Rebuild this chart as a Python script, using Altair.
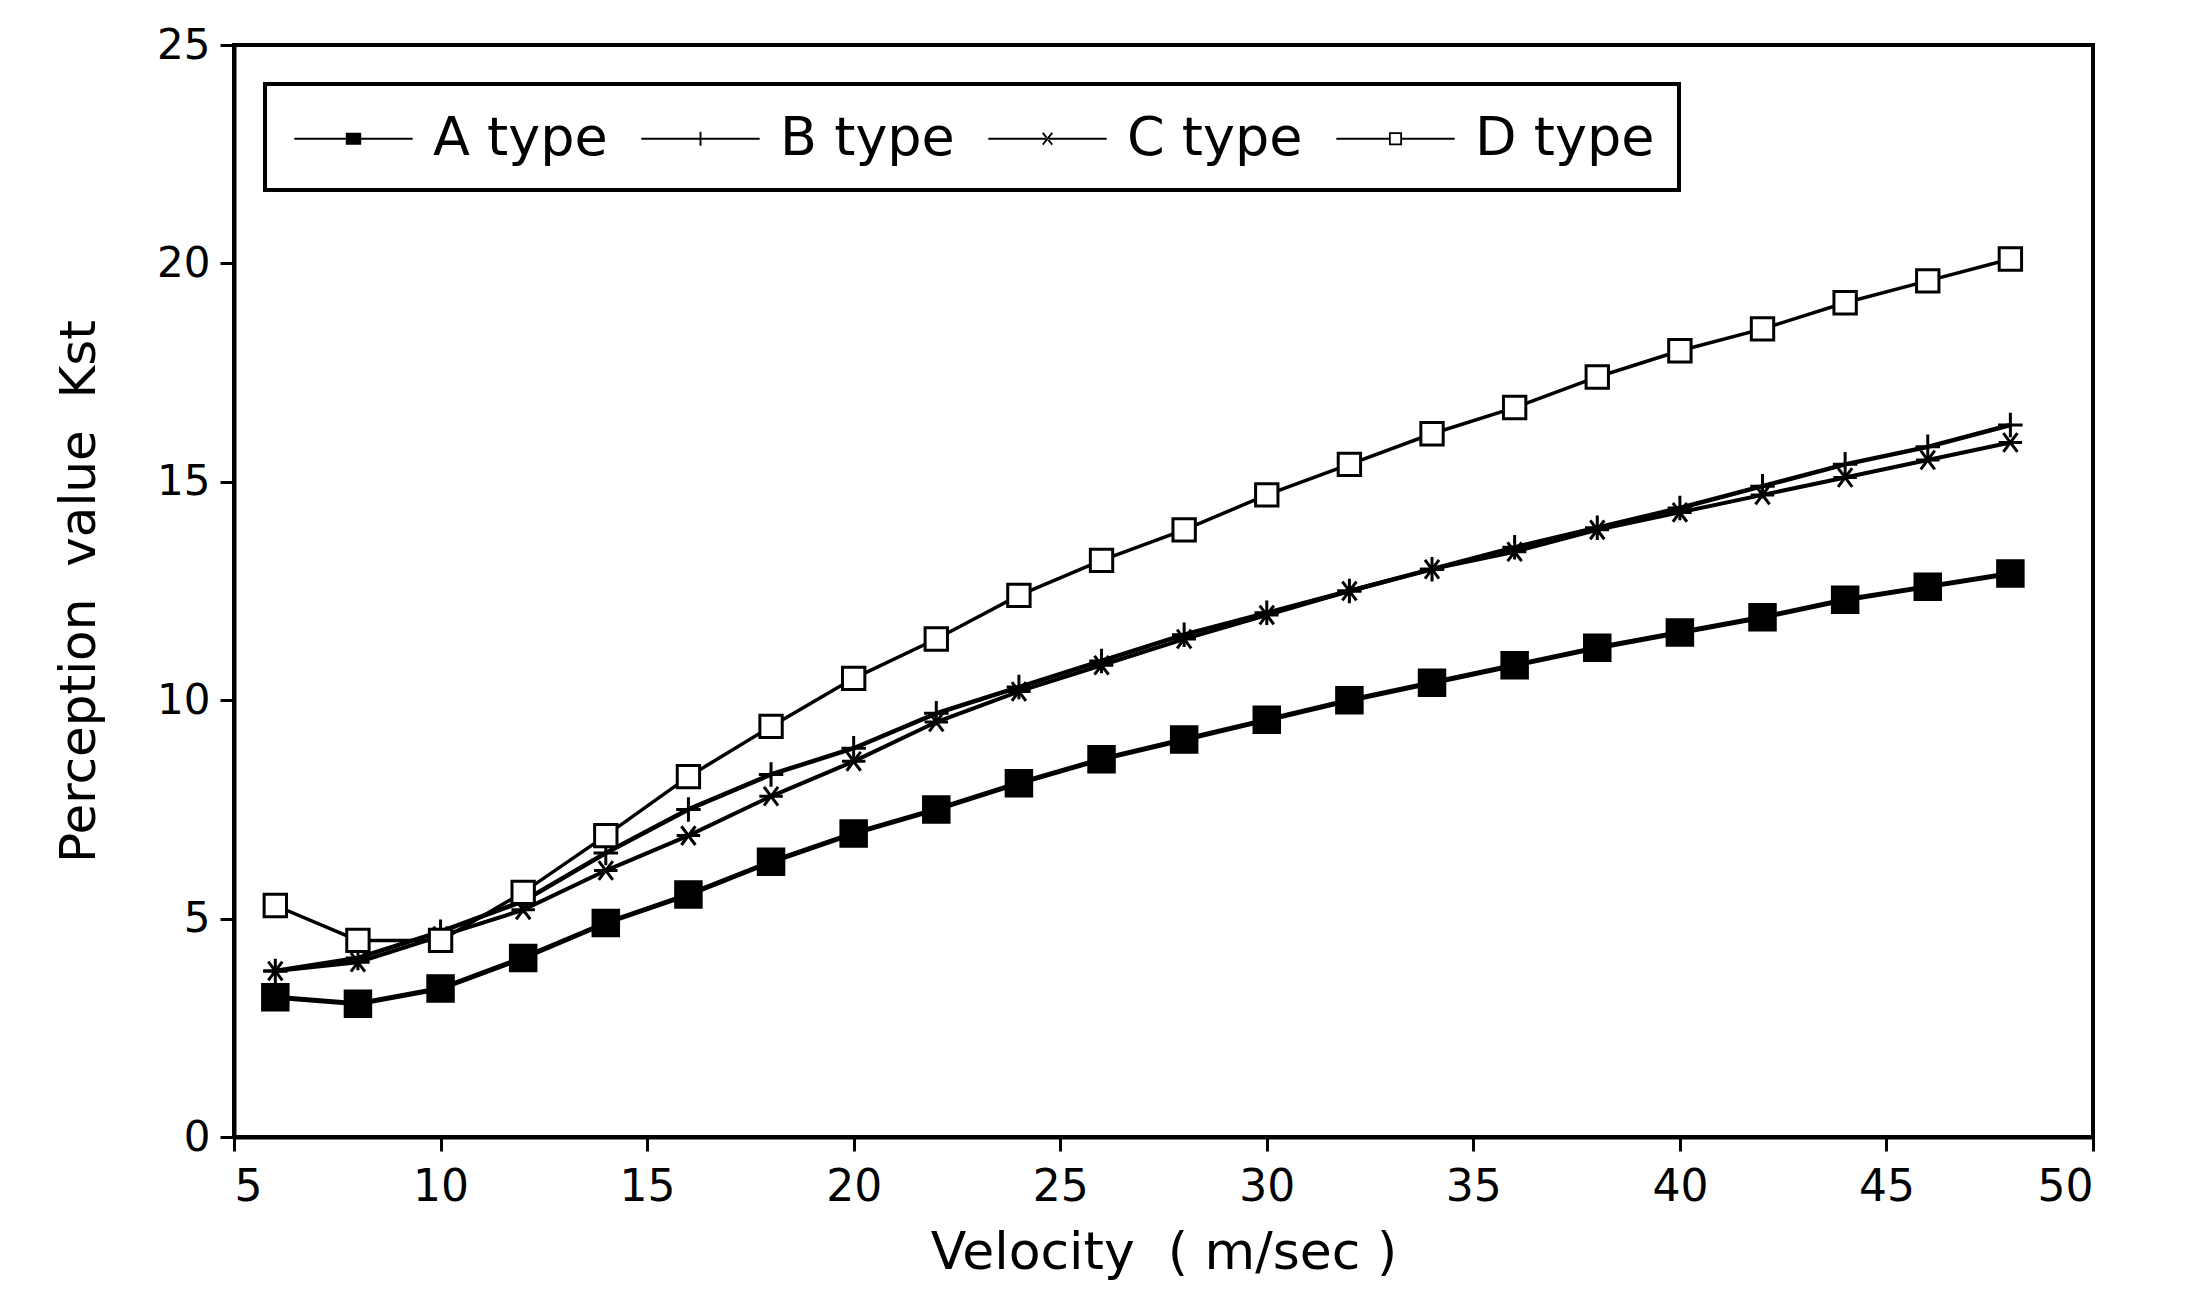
import altair as alt
import pandas as pd

velocity = [6, 8, 10, 12, 14, 16, 18, 20, 22, 24, 26, 28, 30, 32, 34, 36, 38, 40, 42, 44, 46, 48]
a_type = [3.2, 3.05, 3.4, 4.1, 4.9, 5.55, 6.3, 6.95, 7.5, 8.1, 8.65, 9.1, 9.55, 10.0, 10.4, 10.8, 11.2, 11.55, 11.9, 12.3, 12.6, 12.9]
b_type = [3.8, 4.1, 4.7, 5.4, 6.5, 7.5, 8.3, 8.9, 9.7, 10.3, 10.9, 11.5, 12.0, 12.5, 13.0, 13.5, 13.95, 14.4, 14.9, 15.4, 15.8, 16.3]
c_type = [3.8, 4.0, 4.6, 5.2, 6.1, 6.9, 7.8, 8.6, 9.5, 10.2, 10.8, 11.4, 11.95, 12.5, 13.0, 13.4, 13.9, 14.3, 14.7, 15.1, 15.5, 15.9]
d_type = [5.3, 4.5, 4.5, 5.6, 6.9, 8.25, 9.4, 10.5, 11.4, 12.4, 13.2, 13.9, 14.7, 15.4, 16.1, 16.7, 17.4, 18.0, 18.5, 19.1, 19.6, 20.1]
series_names = ["A type", "B type", "C type", "D type"]
x_ticks = [5, 10, 15, 20, 25, 30, 35, 40, 45, 50]
y_ticks = [0, 5, 10, 15, 20, 25]

rows = []
for name, vals in zip(series_names, [a_type, b_type, c_type, d_type]):
    for v, k in zip(velocity, vals):
        rows.append({"Velocity": v, "Kst": k, "Type": name})
df = pd.DataFrame(rows)

FONT = "DejaVu Sans"

x_enc = alt.X("Velocity:Q",
              scale=alt.Scale(domain=[5, 50], nice=False, zero=False),
              axis=alt.Axis(values=x_ticks, title="Velocity\u00a0\u00a0( m/sec )",
                            labelFontSize=44, titleFontSize=52, labelPadding=14,
                            titlePadding=18, tickSize=14, tickWidth=3,
                            domainWidth=4, grid=False))
y_enc = alt.Y("Kst:Q",
              scale=alt.Scale(domain=[0, 25], nice=False),
              axis=alt.Axis(values=y_ticks, title="Perception\u00a0 value\u00a0 Kst",
                            labelFontSize=42, titleFontSize=50, labelPadding=10,
                            titlePadding=52, tickSize=14, tickWidth=3,
                            domainWidth=4, grid=False))

lines = alt.Chart(df).mark_line(color="black").encode(
    x=x_enc, y=y_enc,
    detail="Type:N",
    strokeWidth=alt.StrokeWidth("Type:N", scale=alt.Scale(domain=series_names, range=[5, 3.5, 3.5, 3.5]), legend=None),
)

plus_path = "M-1,0H1M0,-1V1"
star_path = "M-1,0H1M-0.6,-0.8L0.6,0.8M0.6,-0.8L-0.6,0.8"

points = alt.Chart(df).mark_point(stroke="black", strokeWidth=3, opacity=1).encode(
    x="Velocity:Q", y="Kst:Q",
    shape=alt.Shape("Type:N", scale=alt.Scale(domain=series_names,
                                               range=["square", plus_path, star_path, "square"]), legend=None),
    fill=alt.Fill("Type:N", scale=alt.Scale(domain=series_names,
                                             range=["black", "transparent", "transparent", "white"]), legend=None),
    size=alt.Size("Type:N", scale=alt.Scale(domain=series_names, range=[650, 500, 380, 600]), legend=None),
)

# legend glyphs: line segment + marker, all drawn as filled shapes (extend beyond the unit box)
bar = "M-2,-0.032H2V0.032H-2Z"
leg_a = bar + " M-0.26,-0.2H0.26V0.2H-0.26Z"
leg_b = bar + " M-0.032,-0.24H0.032V0.24H-0.032Z"
leg_c = (bar + " M-0.184,-0.18L0.136,0.22L0.184,0.18L-0.136,-0.22Z"
         " M0.184,-0.18L-0.136,0.22L-0.184,0.18L0.136,-0.22Z")
leg_d = ("M-2,-0.032H-0.22V0.032H-2Z M0.22,-0.032H2V0.032H0.22Z"
         " M-0.22,-0.22H0.22V0.22H-0.22Z M-0.16,-0.16V0.16H0.16V-0.16Z")

legend_layer = alt.Chart(df).transform_filter("false").mark_point(
    filled=True, fill="black", size=3500, opacity=1
).encode(
    x="Velocity:Q", y="Kst:Q",
    shape=alt.Shape("Type:N",
                    scale=alt.Scale(domain=series_names, range=[leg_a, leg_b, leg_c, leg_d]),
                    legend=alt.Legend(title=None, orient="none", legendX=31, legendY=39,
                                      direction="horizontal", strokeColor="black",
                                      fillColor="white", padding=24, labelFontSize=54,
                                      labelFont=FONT, labelColor="black", labelOffset=49,
                                      labelLimit=500,
                                      columnPadding=28, symbolSize=3500, symbolOffset=34,
                                      symbolFillColor="black", symbolOpacity=1)),
)

chart = alt.layer(lines, points, legend_layer).resolve_scale(
    shape="independent", fill="independent", size="independent", strokeWidth="independent"
).properties(
    width=1859, height=1092,
    autosize=alt.AutoSizeParams(type="none"),
    padding={"left": 226, "top": 37, "right": 87, "bottom": 160},
    background="white",
).configure_view(
    stroke="black", strokeWidth=4
).configure_axis(
    labelFont=FONT, titleFont=FONT, labelColor="black", titleColor="black",
    domainColor="black", tickColor="black", titleFontWeight="normal"
).configure_legend(
    strokeWidth=4
)

chart.save("out.html", embed_options={"renderer": "svg", "actions": False})
